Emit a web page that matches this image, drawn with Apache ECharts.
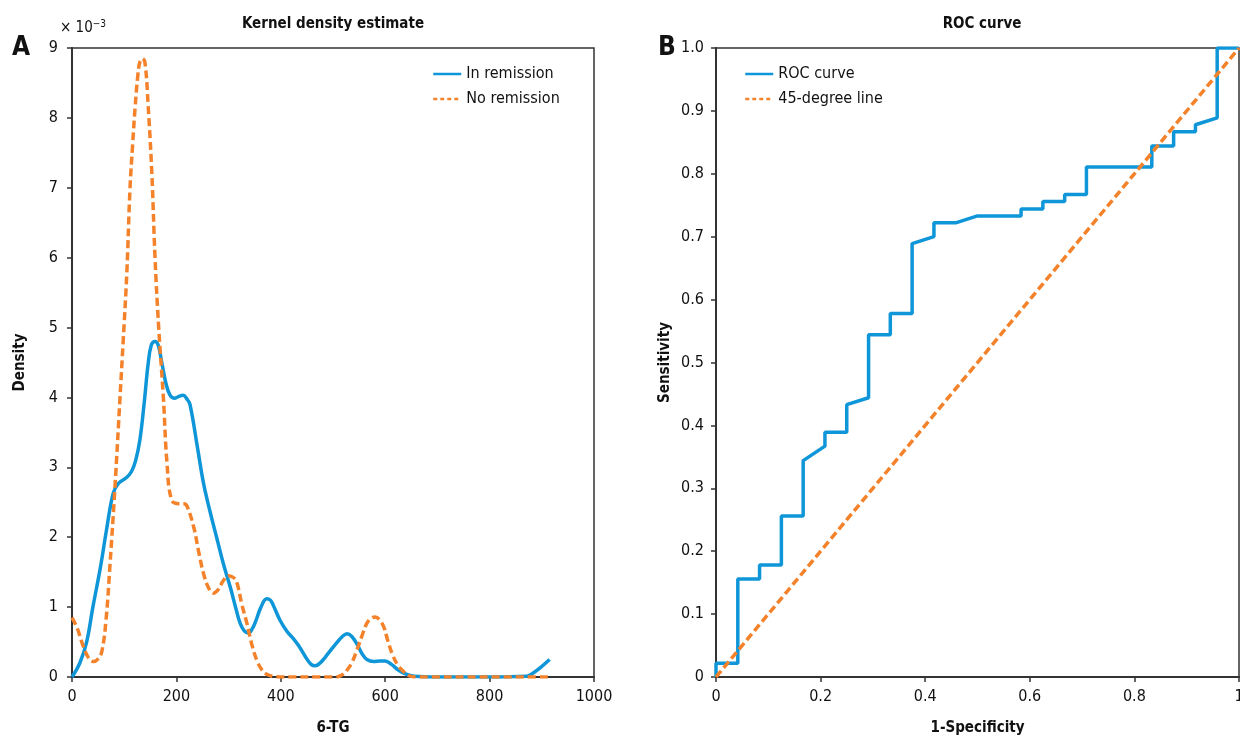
<!DOCTYPE html>
<html>
<head>
<meta charset="utf-8">
<script src="https://cdn.jsdelivr.net/npm/echarts@6/dist/echarts.min.js"></script>
<style>
  html, body { margin: 0; padding: 0; background: #fff; }
  #chart { width: 1240px; height: 736px; }
</style>
</head>
<body>
<div id="chart"></div>
<script>
const FONT = '"DejaVu Sans Condensed", "Liberation Sans Narrow", sans-serif'
const AXIS_COLOR = '#333'
const BLUE = '#0E96D8'
const ORANGE = '#F4822A'

// KDE, density values in units of 10^-3
const remissionKde = [
  [0, 0.0], [15, 0.2], [28, 0.5], [40, 1.0], [54, 1.55], [66, 2.1], [79, 2.63], [89, 2.77],
  [104, 2.85], [114, 2.94], [122, 3.1], [130, 3.39], [138, 3.9], [146, 4.49], [152, 4.75],
  [159, 4.8], [165, 4.75], [172, 4.5], [180, 4.2], [188, 4.03], [197, 3.99], [206, 4.02],
  [213, 4.03], [220, 3.98], [226, 3.9], [240, 3.3], [252, 2.77], [265, 2.35], [277, 2.0],
  [290, 1.62], [303, 1.29], [314, 0.98], [322, 0.77], [330, 0.66], [338, 0.63], [346, 0.7],
  [352, 0.8], [362, 1.0], [373, 1.12], [380, 1.1], [386, 1.02], [398, 0.82], [412, 0.65],
  [424, 0.55], [434, 0.45], [448, 0.28], [458, 0.18], [466, 0.16], [478, 0.22], [490, 0.33],
  [505, 0.47], [518, 0.58], [527, 0.62], [536, 0.58], [546, 0.47], [556, 0.33], [565, 0.25],
  [578, 0.22], [590, 0.23], [600, 0.23], [612, 0.18], [625, 0.1], [640, 0.04], [655, 0.01],
  [700, 0.0], [800, 0.0], [870, 0.01], [880, 0.04], [895, 0.12], [915, 0.25]
]
const noRemissionKde = [
  [0, 0.85], [10, 0.7], [22, 0.43], [32, 0.27], [41, 0.22], [50, 0.26], [57, 0.36], [65, 0.8],
  [73, 1.63], [82, 2.68], [92, 4.0], [98, 4.8], [105, 5.78], [111, 6.97], [116, 7.6],
  [121, 8.16], [126, 8.6], [130, 8.8], [135, 8.85], [140, 8.78], [146, 8.16], [153, 7.2],
  [159, 6.01], [166, 5.01], [175, 4.0], [182, 3.06], [191, 2.53], [205, 2.48], [214, 2.48],
  [220, 2.45], [233, 2.15], [243, 1.78], [252, 1.48], [262, 1.27], [271, 1.2], [280, 1.25],
  [290, 1.38], [300, 1.45], [310, 1.42], [316, 1.35], [325, 1.05], [335, 0.77], [344, 0.48],
  [354, 0.24], [364, 0.1], [373, 0.04], [385, 0.01], [400, 0.0], [500, 0.0], [515, 0.02],
  [527, 0.1], [537, 0.22], [546, 0.39], [556, 0.6], [565, 0.77], [573, 0.84], [581, 0.86],
  [589, 0.82], [597, 0.72], [605, 0.52], [613, 0.34], [624, 0.17], [635, 0.08], [645, 0.02],
  [660, 0.0], [800, 0.0], [915, 0.0]
]

// ROC curve (1-specificity, sensitivity)
const rocFpr = [0, 0, 0.0417, 0.0417, 0.0833, 0.0833, 0.125, 0.125, 0.1667, 0.1667, 0.2083,
  0.2083, 0.25, 0.25, 0.2917, 0.2917, 0.3333, 0.3333, 0.375, 0.375, 0.4167, 0.4167, 0.4583,
  0.5, 0.5833, 0.5833, 0.625, 0.625, 0.6667, 0.6667, 0.7083, 0.7083, 0.8333, 0.8333, 0.875,
  0.875, 0.9167, 0.9167, 0.9583, 0.9583, 1.0]
const rocTpr = [0, 0.022, 0.022, 0.156, 0.156, 0.178, 0.178, 0.256, 0.256, 0.344, 0.367,
  0.389, 0.389, 0.433, 0.444, 0.544, 0.544, 0.578, 0.578, 0.689, 0.7, 0.722, 0.722, 0.733,
  0.733, 0.744, 0.744, 0.756, 0.756, 0.767, 0.767, 0.811, 0.811, 0.844, 0.844, 0.867, 0.867,
  0.878, 0.889, 1.0, 1.0]
const diagonal = [[0, 0], [1, 1]]

function axisBase(extra) {
  return Object.assign({
    type: 'value',
    axisLine: { show: true, lineStyle: { color: AXIS_COLOR, width: 2 } },
    axisTick: { show: true, length: 5, lineStyle: { color: AXIS_COLOR, width: 1.5 } },
    axisLabel: { color: '#111', fontFamily: FONT, fontSize: 16, margin: 12 },
    splitLine: { show: false },
    nameTextStyle: { color: '#111', fontFamily: FONT, fontSize: 15, fontWeight: 'bold' }
  }, extra)
}

const legendBase = {
  orient: 'vertical', itemWidth: 28, itemHeight: 12, itemGap: 9,
  itemStyle: { opacity: 0 },
  lineStyle: { width: 2.5 },
  textStyle: { fontFamily: FONT, fontSize: 16, color: '#111' }
}

const chart = echarts.init(document.getElementById('chart'))

chart.setOption({
  animation: false,
  backgroundColor: '#fff',
  title: [
    { text: 'Kernel density estimate', left: 328, top: 12, textAlign: 'center',
      textStyle: { fontFamily: FONT, fontSize: 15, fontWeight: 'bold', color: '#111' } },
    { text: 'ROC curve', left: 977, top: 12, textAlign: 'center',
      textStyle: { fontFamily: FONT, fontSize: 15, fontWeight: 'bold', color: '#111' } }
  ],
  graphic: [
    { type: 'text', left: 12, top: 35, style: { text: 'A', fontFamily: FONT, fontSize: 26, fontWeight: 'bold', fill: '#111' } },
    { type: 'text', left: 658, top: 35, style: { text: 'B', fontFamily: FONT, fontSize: 26, fontWeight: 'bold', fill: '#111' } },
    { type: 'text', left: 60, top: 19, style: {
      text: '× 10{sup|−3}', fontFamily: FONT, fontSize: 15, fill: '#111',
      rich: { sup: { fontFamily: FONT, fontSize: 10, verticalAlign: 'top', padding: [0, 0, 8, 0] } }
    } }
  ],
  legend: [
    Object.assign({ left: 427, top: 61, data: [
      { name: 'In remission' },
      { name: 'No remission', lineStyle: { type: [4, 3] } }
    ] }, legendBase),
    Object.assign({ left: 739, top: 61, data: [
      { name: 'ROC curve' },
      { name: '45-degree line', lineStyle: { type: [4, 3] } }
    ] }, legendBase)
  ],
  grid: [
    { left: 72, top: 48, width: 522, height: 629, show: true, borderColor: AXIS_COLOR, borderWidth: 1.5,
      outerBoundsMode: 'none' },
    { left: 716, top: 48, width: 523, height: 629, show: true, borderColor: AXIS_COLOR, borderWidth: 1.5,
      outerBoundsMode: 'none' }
  ],
  xAxis: [
    axisBase({ gridIndex: 0, min: 0, max: 1000, interval: 200, name: '6-TG', nameLocation: 'middle', nameGap: 44,
      axisLabel: { color: '#111', fontFamily: FONT, fontSize: 16, margin: 12, formatter: (v) => String(v) } }),
    axisBase({ gridIndex: 1, min: 0, max: 1, interval: 0.2, name: '1-Specificity', nameLocation: 'middle', nameGap: 44 })
  ],
  yAxis: [
    axisBase({ gridIndex: 0, min: 0, max: 9, interval: 1, name: 'Density', nameLocation: 'middle', nameGap: 44,
      axisLabel: { color: '#111', fontFamily: FONT, fontSize: 16, margin: 14 } }),
    axisBase({ gridIndex: 1, min: 0, max: 1, interval: 0.1, name: 'Sensitivity', nameLocation: 'middle', nameGap: 43,
      axisLabel: { color: '#111', fontFamily: FONT, fontSize: 16, margin: 12,
        formatter: (v) => (v === 0 ? '0' : v.toFixed(1)) } })
  ],
  series: [
    { name: 'In remission', type: 'line', xAxisIndex: 0, yAxisIndex: 0, data: remissionKde,
      smooth: 0.4, symbol: 'none', lineStyle: { color: BLUE, width: 3.5 }, itemStyle: { color: BLUE } },
    { name: 'No remission', type: 'line', xAxisIndex: 0, yAxisIndex: 0, data: noRemissionKde,
      smooth: 0.4, symbol: 'none', lineStyle: { color: ORANGE, width: 3.5, type: [8, 4] }, itemStyle: { color: ORANGE } },
    { name: 'ROC curve', type: 'line', xAxisIndex: 1, yAxisIndex: 1,
      data: rocFpr.map((x, i) => [x, rocTpr[i]]),
      symbol: 'none', lineStyle: { color: BLUE, width: 3.5 }, itemStyle: { color: BLUE } },
    { name: '45-degree line', type: 'line', xAxisIndex: 1, yAxisIndex: 1, data: diagonal,
      symbol: 'none', lineStyle: { color: ORANGE, width: 3.5, type: [8, 4] }, itemStyle: { color: ORANGE } }
  ]
})
</script>
</body>
</html>
